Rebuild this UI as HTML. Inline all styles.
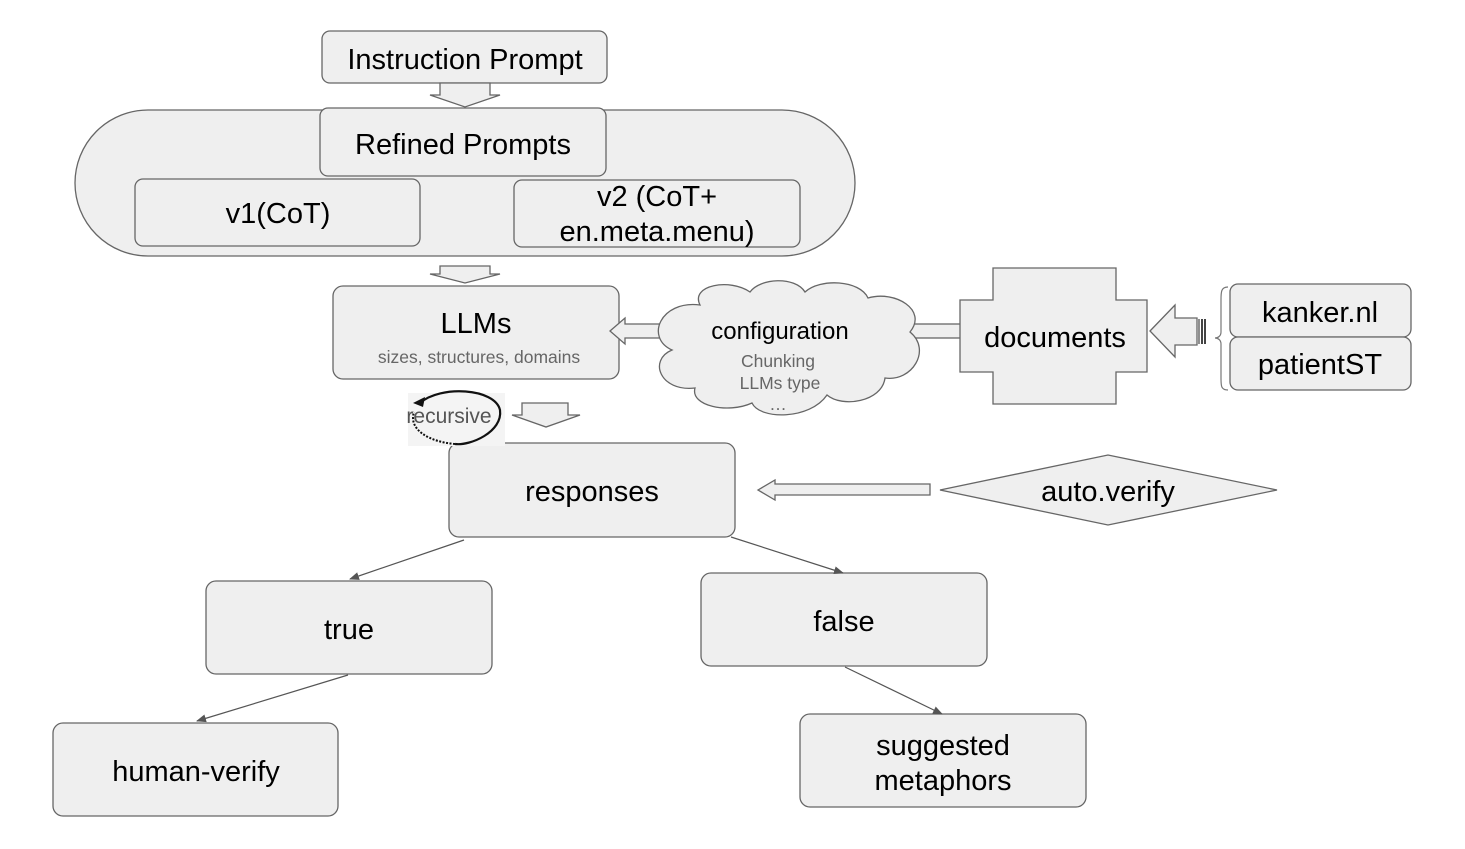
<!DOCTYPE html>
<html><head><meta charset="utf-8"><style>
html,body{margin:0;padding:0;background:#fff;}
svg{display:block;font-family:"Liberation Sans",Arial,sans-serif;}
</style></head><body>
<svg width="1465" height="849" viewBox="0 0 1465 849" xmlns="http://www.w3.org/2000/svg">
<defs>
<marker id="ah" markerWidth="10" markerHeight="8" refX="9" refY="4" orient="auto" markerUnits="userSpaceOnUse"><path d="M0,0 L10,4 L0,8 z" fill="#555"/></marker>
</defs>
<g fill="#efefef" stroke="#666" stroke-width="1.3">
<rect x="75" y="110" width="780" height="146" rx="73"/>
<rect x="322" y="31" width="285" height="52" rx="8"/>
<path d="M440,83 H490 V95 H500 L465,107 L430,95 H440 Z"/>
<rect x="320" y="108" width="286" height="68" rx="8"/>
<rect x="135" y="179" width="285" height="67" rx="8"/>
<rect x="514" y="180" width="286" height="67" rx="8"/>
<path d="M440,266 H490 V274 H500 L465,283 L430,274 H440 Z"/>
<rect x="333" y="286" width="286" height="93" rx="10"/>
<path d="M610,331 L625,318 V324 H690 V338 H625 V344 Z"/>
<rect x="900" y="324" width="65" height="14"/>
<path d="M700,305 C690,285 730,278 750,292 C760,278 795,276 805,292 C820,278 860,280 868,298 C895,290 928,310 910,332 C932,350 912,382 885,378 C882,402 842,408 827,395 C810,420 760,420 752,403 C728,414 690,406 695,388 C660,392 648,360 672,350 C645,338 660,300 700,305 Z"/>
<path d="M993,268 H1116 V300 H1147 V372 H1116 V404 H993 V372 H960 V300 H993 Z"/>
<path d="M1150,331 L1175,305 V318 H1197 V345 H1175 V357 Z"/>
<rect x="1230" y="284" width="181" height="53" rx="8"/>
<rect x="1230" y="337" width="181" height="53" rx="8"/>
<path d="M522,403 H568 V415 H580 L546,427 L512,415 H522 Z"/>
<rect x="449" y="443" width="286" height="94" rx="10"/>
<path d="M758,490 L775,480 V484 H930 V495 H775 V500 Z"/>
<path d="M940,490 L1108,455 L1277,490 L1108,525 Z"/>
<rect x="206" y="581" width="286" height="93" rx="10"/>
<rect x="701" y="573" width="286" height="93" rx="10"/>
<rect x="53" y="723" width="285" height="93" rx="10"/>
<rect x="800" y="714" width="286" height="93" rx="10"/>
</g>
<g stroke="#444" stroke-width="1.2" fill="none">
<line x1="1199" y1="319" x2="1199" y2="344"/><line x1="1202" y1="319" x2="1202" y2="344" stroke-width="2"/><line x1="1205" y1="319" x2="1205" y2="344" stroke-width="2"/>
<path d="M1228,287 C1221,287 1221,292 1221,300 V332 C1221,336 1218,338 1215,338 C1218,338 1221,340 1221,344 V378 C1221,386 1221,390 1228,390" stroke="#777"/>
</g>
<rect x="408" y="393" width="97" height="53" fill="#f4f4f4"/>
<path d="M420,403 C440,385 495,388 500,410 C503,432 470,446 455,444" fill="none" stroke="#111" stroke-width="2.2"/>
<path d="M455,444 C430,442 408,430 414,412" fill="none" stroke="#111" stroke-width="2" stroke-dasharray="2,1.5"/>
<path d="M413,403 L425,397 L423,407 Z" fill="#111"/>
<g stroke="#555" stroke-width="1.2" fill="none">
<line x1="464" y1="540" x2="350" y2="579" marker-end="url(#ah)"/>
<line x1="731" y1="537" x2="843" y2="573" marker-end="url(#ah)"/>
<line x1="348" y1="675" x2="197" y2="721" marker-end="url(#ah)"/>
<line x1="845" y1="667" x2="942" y2="714" marker-end="url(#ah)"/>
</g>
<g fill="#000" font-size="29" text-anchor="middle">
<text x="465" y="69">Instruction Prompt</text>
<text x="463" y="154">Refined Prompts</text>
<text x="278" y="223">v1(CoT)</text>
<text x="657" y="206">v2 (CoT+</text>
<text x="657" y="241">en.meta.menu)</text>
<text x="476" y="333">LLMs</text>
<text x="1055" y="347">documents</text>
<text x="1320" y="322">kanker.nl</text>
<text x="1320" y="374">patientST</text>
<text x="592" y="501">responses</text>
<text x="1108" y="501">auto.verify</text>
<text x="349" y="639">true</text>
<text x="844" y="631">false</text>
<text x="196" y="781">human-verify</text>
<text x="943" y="755">suggested</text>
<text x="943" y="790">metaphors</text>
</g>
<text x="780" y="339" font-size="24" text-anchor="middle" fill="#000">configuration</text>
<g fill="#666" font-size="17.5" text-anchor="middle">
<text x="479" y="363">sizes, structures, domains</text>
<text x="778" y="367">Chunking</text>
<text x="780" y="389">LLMs type</text>
<text x="778" y="410">…</text>
</g>
<text x="449" y="423" font-size="21" text-anchor="middle" fill="#555">recursive</text>
</svg>
</body></html>
